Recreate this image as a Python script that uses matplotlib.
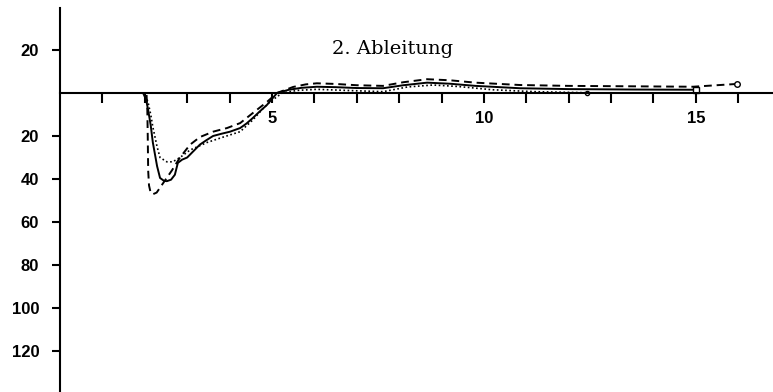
import matplotlib
matplotlib.use("Agg")
import matplotlib.pyplot as plt

# --- data ---
solid_x = [0, 1.96, 2.03, 2.08, 2.14, 2.19, 2.29, 2.36, 2.45, 2.52, 2.62, 2.71, 2.78, 2.88, 3.0,
           3.15, 3.30, 3.45, 3.61, 3.8, 4.01, 4.25, 4.4, 4.55, 4.7, 4.88, 5.12, 5.4, 5.7, 6.06,
           6.5, 7.0, 7.62, 8.1, 8.66, 9.2, 9.8, 10.85, 12.0, 13.5, 15.0]
solid_y = [0, 0, -3, -8, -15, -23, -34, -39.5, -40.8, -41, -40.3, -38, -32.5, -31, -30,
           -27, -24, -22, -20, -19, -18, -16.3, -14.2, -11.6, -8.8, -5.6, 0, 1.5, 2.4, 2.9,
           2.7, 2.3, 2.2, 3.6, 4.8, 4.3, 3.3, 2.2, 1.8, 1.6, 1.5]

dashed_x = [0, 2.04, 2.06, 2.07, 2.08, 2.10, 2.14, 2.2, 2.28, 2.36, 2.5, 2.64, 2.83, 3.07,
            3.30, 3.61, 3.94, 4.25, 4.55, 4.88, 5.12, 5.5, 5.8, 6.06, 6.5, 7.0, 7.62, 8.1,
            8.66, 9.2, 9.8, 10.85, 12.0, 13.5, 14.93, 15.97]
dashed_y = [0, 0, -8, -20, -36, -43, -46.5, -47, -46.3, -44, -40, -36, -30, -24,
            -20.5, -18, -16.3, -14, -9.3, -4.2, 0, 2.8, 4.0, 4.5, 4.2, 3.6, 3.3, 5.0,
            6.4, 5.9, 4.8, 3.7, 3.3, 3.1, 2.9, 4.2]

dotted_x = [0, 2.0, 2.08, 2.14, 2.19, 2.29, 2.36, 2.52, 2.66, 2.83, 3.07, 3.47, 3.85, 4.25,
            4.55, 4.8, 4.95, 5.24, 5.6, 6.06, 6.6, 7.62, 8.2, 8.8, 9.4, 10.2, 11.2, 12.43]
dotted_y = [0, 0, -4.6, -10, -15.8, -25, -30, -32, -32, -30, -26.5, -23, -20.5, -18,
            -12.5, -7, -4.2, 0, 1.2, 1.7, 1.3, 0.6, 2.8, 3.7, 3.0, 1.5, 0.6, 0.1]

x_ticks = list(range(1, 17))
x_labels = ["", "", "", "", "5", "", "", "", "", "10", "", "", "", "", "15", ""]
y_ticks = [20, -20, -40, -60, -80, -100, -120]
y_labels = ["20", "20", "40", "60", "80", "100", "120"]
title_text = "2. Ableitung"

fig = plt.figure(figsize=(7.73, 3.92), dpi=100)
ax = fig.add_axes([60 / 773, 0.0, 1 - 60 / 773, 1 - 8 / 392])
ax.set_xlim(0, 16.82)
ax.set_ylim(-139, 39.5)

ax.plot(solid_x, solid_y, color="black", lw=1.4, ls="-")
ax.plot(dashed_x, dashed_y, color="black", lw=1.4, ls=(0, (4, 2.5)))
ax.plot(dotted_x, dotted_y, color="black", lw=1.2, ls=(0, (1, 1.5)))

ax.plot(solid_x[-1], solid_y[-1], marker="s", ms=4, mfc="white", mec="black", mew=1)
ax.plot(dashed_x[-1], dashed_y[-1], marker="o", ms=4, mfc="white", mec="black", mew=1)
ax.plot(dotted_x[-1], dotted_y[-1], marker="o", ms=3, mfc="white", mec="black", mew=1)

for s in ["top", "right"]:
    ax.spines[s].set_visible(False)
ax.spines["bottom"].set_position(("data", 0))
ax.spines["bottom"].set_linewidth(1.5)
ax.spines["left"].set_linewidth(1.5)

ax.set_xticks(x_ticks)
ax.set_xticklabels(x_labels)
ax.set_yticks(y_ticks)
ax.set_yticklabels(y_labels)
ax.tick_params(axis="x", direction="out", length=7, width=1.5, pad=6)
ax.tick_params(axis="y", direction="out", length=6, width=1.5, pad=9)
for lab in ax.get_xticklabels() + ax.get_yticklabels():
    lab.set_fontfamily("Liberation Sans")
    lab.set_fontweight("bold")
    lab.set_fontsize(12)

ax.text(7.84, 20.5, title_text, ha="center", va="center", fontsize=14,
        family="DejaVu Serif")

fig.savefig("out.png", dpi=100)
